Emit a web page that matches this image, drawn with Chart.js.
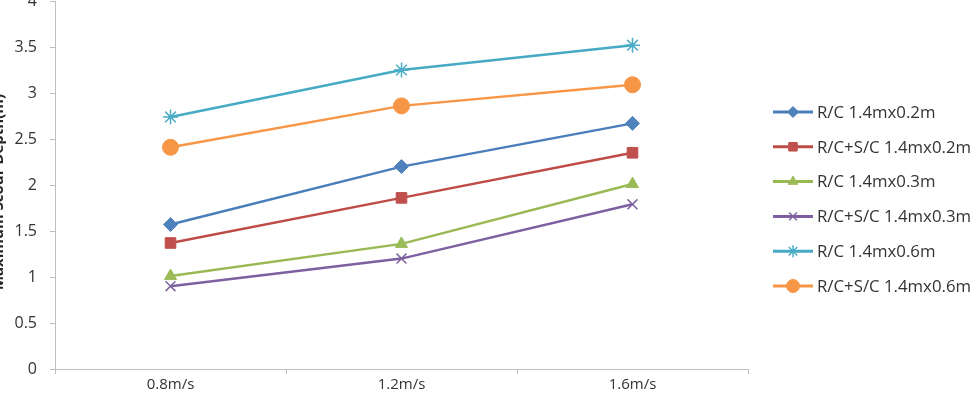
<!DOCTYPE html>
<html>
<head>
<meta charset="utf-8">
<script src="https://cdn.jsdelivr.net/npm/chart.js@4"></script>
<style>
html,body{margin:0;padding:0;background:#fff;overflow:hidden;}
#wrap{width:975px;height:405px;position:relative;overflow:hidden;}
#c{position:absolute;left:0;top:-8px;}
</style>
</head>
<body>
<div id="wrap"><canvas id="c" width="975" height="413"></canvas></div>
<script>
const categories = ["0.8m/s", "1.2m/s", "1.6m/s"];
const seriesNames = ["R/C 1.4mx0.2m", "R/C+S/C 1.4mx0.2m", "R/C 1.4mx0.3m", "R/C+S/C 1.4mx0.3m", "R/C 1.4mx0.6m", "R/C+S/C 1.4mx0.6m"];
const rc02 = [1.57, 2.20, 2.67];
const rcsc02 = [1.37, 1.86, 2.35];
const rc03 = [1.01, 1.36, 2.01];
const rcsc03 = [0.90, 1.20, 1.79];
const rc06 = [2.74, 3.25, 3.52];
const rcsc06 = [2.41, 2.86, 3.09];
const yTicks = ["0", "0.5", "1", "1.5", "2", "2.5", "3", "3.5", "4"];
const yTitle = "Maximum Scour Depth(m)";

const values = [rc02, rcsc02, rc03, rcsc03, rc06, rcsc06];
const lineColors = ["#4A7EBB", "#BE4B48", "#98B954", "#7D60A0", "#46AAC5", "#F79646"];
const markColors = ["#4F81BD", "#C0504D", "#9BBB59", "#8064A2", "#4BACC6", "#F79646"];
const styles = ["rectRot", "rect", "triangle", "crossRot", "star", "circle"];
const radii = [7, 7.5, 7, 7, 7.5, 8];

const datasets = values.map((v, i) => ({
  label: seriesNames[i],
  data: v,
  borderColor: lineColors[i],
  backgroundColor: markColors[i],
  pointBackgroundColor: markColors[i],
  pointBorderColor: markColors[i],
  pointStyle: styles[i],
  pointRadius: radii[i],
  pointBorderWidth: (styles[i] === "crossRot" || styles[i] === "star") ? 1.5 : 1,
  borderWidth: 2.5,
  tension: 0,
  fill: false
}));

const legendPlugin = {
  id: 'customLegend',
  afterDraw(chart) {
    const ctx = chart.ctx;
    ctx.save();
    const x0 = 773, x1 = 813, y0 = 120, dy = 34.8;
    chart.data.datasets.forEach((ds, i) => {
      const y = y0 + i * dy;
      ctx.strokeStyle = ds.borderColor;
      ctx.lineWidth = 3;
      ctx.beginPath(); ctx.moveTo(x0, y); ctx.lineTo(x1, y); ctx.stroke();
      ctx.fillStyle = ds.pointBackgroundColor;
      ctx.strokeStyle = ds.pointBorderColor;
      ctx.lineWidth = ds.pointBorderWidth;
      Chart.helpers.drawPoint(ctx, {pointStyle: ds.pointStyle, radius: ds.pointRadius - 1.5, rotation: 0, borderWidth: ds.pointBorderWidth}, (x0 + x1) / 2, y);
      ctx.fillStyle = "#333333";
      ctx.font = "16.8px 'Open Sans', sans-serif";
      ctx.textBaseline = "middle";
      ctx.textAlign = "left";
      ctx.fillText(ds.label, 817, y + 1);
    });
    ctx.save();
    ctx.translate(-1, 200);
    ctx.rotate(-Math.PI / 2);
    ctx.fillStyle = "#262626";
    ctx.font = "bold 15px 'Open Sans', sans-serif";
    ctx.textAlign = "center";
    ctx.textBaseline = "middle";
    ctx.fillText(yTitle, 0, 0);
    ctx.restore();
    ctx.restore();
  }
};

new Chart(document.getElementById('c'), {
  type: 'line',
  data: { labels: categories, datasets: datasets },
  options: {
    responsive: false,
    animation: false,
    layout: { padding: { left: 0, right: 227, top: 0, bottom: 0 } },
    plugins: { legend: { display: false }, tooltip: { enabled: false } },
    scales: {
      x: {
        offset: true,
        afterFit(scale) { scale.height = 36; },
        grid: { display: true, offset: true, drawOnChartArea: false, tickLength: 5, color: "#BFBFBF", lineWidth: 1 },
        border: { color: "#BFBFBF", width: 1 },
        ticks: { color: "#333333", font: { family: "'Open Sans', sans-serif", size: 15 }, padding: 2 }
      },
      y: {
        min: 0, max: 4,
        afterFit(scale) { scale.width = 55; scale.paddingTop = 0; },
        grid: { display: true, drawOnChartArea: false, tickLength: 5, color: "#BFBFBF" },
        border: { color: "#BFBFBF", width: 1 },
        ticks: {
          stepSize: 0.5, color: "#333333",
          font: { family: "'Open Sans', sans-serif", size: 16 }, padding: 13,
          callback: (v, idx) => yTicks[idx]
        }
      }
    }
  },
  plugins: [legendPlugin]
});
</script>
</body>
</html>
